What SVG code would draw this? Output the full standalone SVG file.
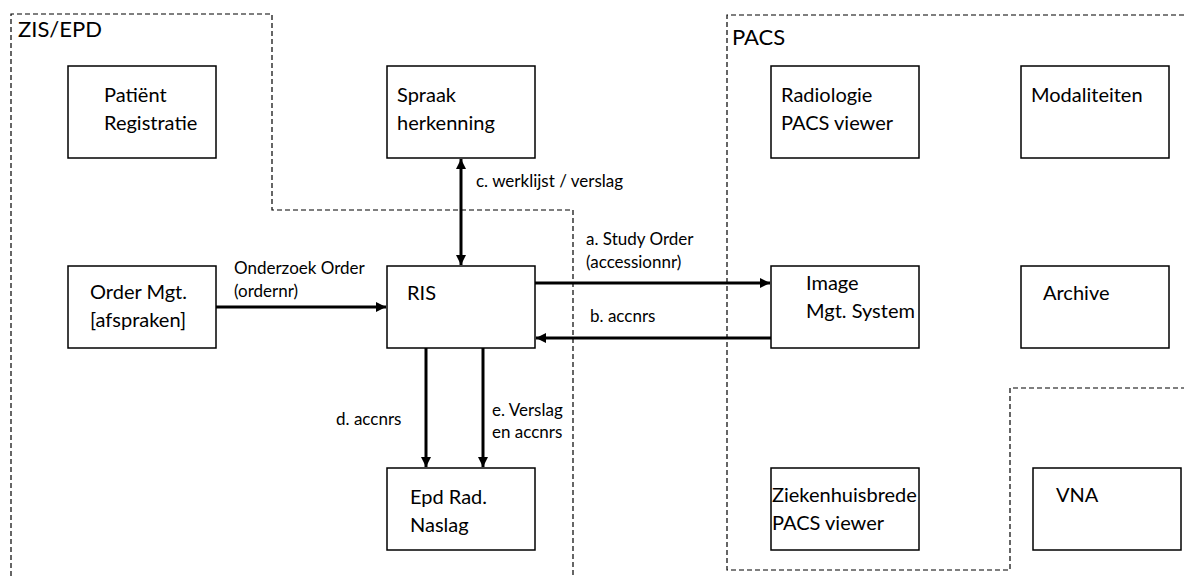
<svg xmlns="http://www.w3.org/2000/svg" width="1184" height="576" viewBox="0 0 1184 576">
<style>
.box{fill:#fff;stroke:#000;stroke-width:1.5}
.bd{fill:none;stroke:#000;stroke-width:1.2;stroke-dasharray:5,3}
.t{font-family:Lato,"Open Sans",sans-serif;font-size:20px;fill:#000}
.h{font-family:Lato,"Open Sans",sans-serif;font-size:22px;fill:#000}
.l{font-family:Lato,"Open Sans",sans-serif;font-size:17px;fill:#000}
.c{stroke:#000;stroke-width:3;fill:none}
</style>
<defs>
<marker id="ah" markerUnits="userSpaceOnUse" markerWidth="12" markerHeight="10" refX="10" refY="5" orient="auto">
<path d="M0,0 L10,5 L0,10 Z" fill="#000"/>
</marker>
<marker id="as" markerUnits="userSpaceOnUse" markerWidth="12" markerHeight="10" refX="0" refY="5" orient="auto">
<path d="M10,0 L0,5 L10,10 Z" fill="#000"/>
</marker>
</defs>
<g id="boundaries">
<path class="bd" d="M11,576 V14 H272 V210 H573 V576"/>
<text class="h" x="18" y="37">ZIS/EPD</text>
<path class="bd" d="M1184,15 H727 V570 H1010 V388 H1184"/>
<text class="h" x="732" y="45">PACS</text>
</g>
<g id="patient"><rect class="box" x="68" y="66" width="148" height="92"/><text class="t" x="104" y="102">Patiënt</text><text class="t" x="104" y="130">Registratie</text></g>
<g id="spraak"><rect class="box" x="387" y="66" width="148" height="92"/><text class="t" x="397" y="102">Spraak</text><text class="t" x="397" y="130">herkenning</text></g>
<g id="order"><rect class="box" x="68" y="266" width="148" height="82"/><text class="t" x="90" y="299">Order Mgt.</text><text class="t" x="90" y="327">[afspraken]</text></g>
<g id="ris"><rect class="box" x="387" y="266" width="148" height="82"/><text class="t" x="407" y="300">RIS</text></g>
<g id="epd"><rect class="box" x="387" y="468" width="148" height="82"/><text class="t" x="410" y="504">Epd Rad.</text><text class="t" x="410" y="532">Naslag</text></g>
<g id="radviewer"><rect class="box" x="771" y="66" width="148" height="92"/><text class="t" x="781" y="102">Radiologie</text><text class="t" x="781" y="130">PACS viewer</text></g>
<g id="modaliteiten"><rect class="box" x="1021" y="66" width="148" height="92"/><text class="t" x="1031" y="102">Modaliteiten</text></g>
<g id="ims"><rect class="box" x="771" y="266" width="148" height="82"/><text class="t" x="806" y="290">Image</text><text class="t" x="806" y="318">Mgt. System</text></g>
<g id="archive"><rect class="box" x="1021" y="266" width="148" height="82"/><text class="t" x="1043" y="300">Archive</text></g>
<g id="zhviewer"><rect class="box" x="771" y="468" width="148" height="82"/><text class="t" x="772" y="502">Ziekenhuisbrede</text><text class="t" x="772" y="530">PACS viewer</text></g>
<g id="vna"><rect class="box" x="1033" y="468" width="148" height="82"/><text class="t" x="1056" y="502">VNA</text></g>
<g id="connectors">
<line class="c" x1="461" y1="159" x2="461" y2="265" marker-start="url(#as)" marker-end="url(#ah)"/>
<text class="l" x="476" y="187">c. werklijst / verslag</text>
<line class="c" x1="216" y1="307" x2="386" y2="307" marker-end="url(#ah)"/>
<text class="l" x="234" y="274">Onderzoek Order</text>
<text class="l" x="234" y="297">(ordernr)</text>
<line class="c" x1="535" y1="283" x2="770" y2="283" marker-end="url(#ah)"/>
<text class="l" x="586" y="245">a. Study Order</text>
<text class="l" x="586" y="268">(accessionnr)</text>
<line class="c" x1="771" y1="338" x2="536" y2="338" marker-end="url(#ah)"/>
<text class="l" x="590" y="322">b. accnrs</text>
<line class="c" x1="426" y1="348" x2="426" y2="467" marker-end="url(#ah)"/>
<text class="l" x="336" y="425">d. accnrs</text>
<line class="c" x1="483" y1="348" x2="483" y2="467" marker-end="url(#ah)"/>
<text class="l" x="492" y="416">e. Verslag</text>
<text class="l" x="492" y="438">en accnrs</text>
</g>
</svg>
